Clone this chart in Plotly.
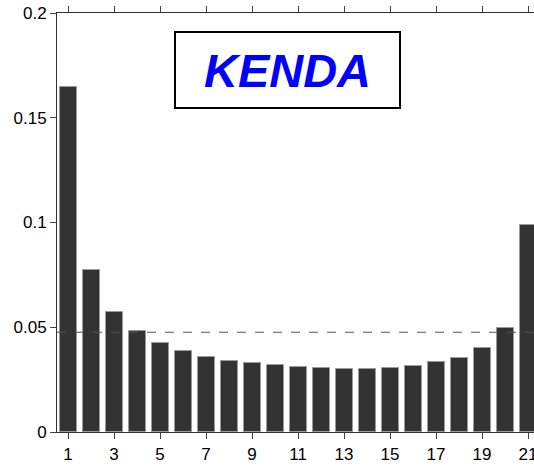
import plotly.graph_objects as go

ranks = list(range(1, 22))
freqs = [0.1648, 0.0771, 0.0573, 0.0481, 0.0424, 0.0387, 0.0359, 0.0341, 0.0329,
         0.0318, 0.0310, 0.0306, 0.0303, 0.0303, 0.0306, 0.0314, 0.0333, 0.0352,
         0.0403, 0.0498, 0.0986]
xtick_vals = list(range(1, 22, 2))
ytick_vals = [0, 0.05, 0.1, 0.15, 0.2]
uniform_level = 1 / 21
title_text = "KENDA"

fig = go.Figure()
fig.add_trace(go.Bar(
    x=ranks, y=freqs, width=0.74,
    marker=dict(color="#333333", line=dict(color="#9a9a9a", width=1)),
    showlegend=False,
))

fig.add_shape(type="line", xref="paper", x0=0, x1=1, yref="y",
              y0=uniform_level, y1=uniform_level,
              line=dict(color="#555555", width=1, dash="dash"))

fig.add_annotation(
    xref="paper", yref="paper", x=0.483, y=0.864,
    text="<b><i>" + title_text + "</i></b>", showarrow=False,
    font=dict(family="Liberation Sans, Arial", size=47, color="#0000ff"),
    bordercolor="#000000", borderwidth=2, borderpad=0, bgcolor="white",
    width=223, height=74, xanchor="center", yanchor="middle",
)

fig.update_layout(
    width=534, height=466,
    margin=dict(l=57, r=0, t=13, b=34),
    paper_bgcolor="white", plot_bgcolor="white",
    font=dict(family="Liberation Sans, Arial", size=17, color="#000000"),
    bargap=0,
)
fig.update_xaxes(
    range=[0.52, 21.26], tickvals=xtick_vals, ticks="outside", ticklen=6,
    tickcolor="#444444", showline=True, linecolor="#333333", linewidth=1,
    mirror="ticks", showgrid=False, zeroline=False, automargin=False,
    tickfont=dict(size=17), ticklabeloverflow="allow", ticklabelstandoff=1,
)
fig.update_yaxes(
    range=[0, 0.2], tickvals=ytick_vals, ticks="outside", ticklen=6,
    tickcolor="#444444", showline=True, linecolor="#333333", linewidth=1,
    showgrid=False, zeroline=False, tickfont=dict(size=17), automargin=False,
)

fig.write_html("out.html")
